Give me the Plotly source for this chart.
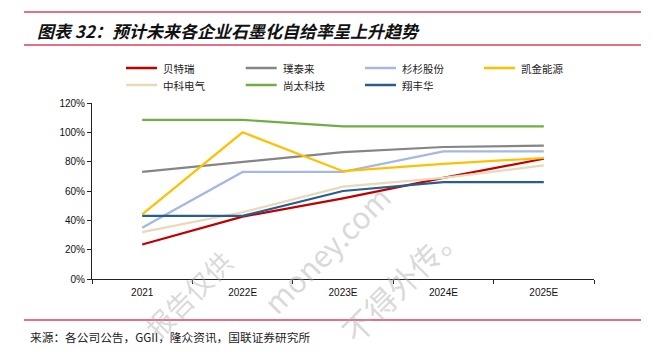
import plotly.graph_objects as go

categories = ["2021", "2022E", "2023E", "2024E", "2025E"]
companies = ["贝特瑞", "璞泰来", "杉杉股份", "凯金能源", "中科电气", "尚太科技", "翔丰华"]
btr = [23.5, 42.5, 55, 69, 82]
putailai = [73, 80, 86.5, 90, 91]
shanshan = [35, 73, 73, 87, 87]
kaijin = [44, 100, 73.5, 78.5, 82.5]
zhongke = [32, 45.5, 63, 69, 77.5]
shangtai = [108.5, 108.5, 104, 104, 104]
xiangfenghua = [43, 43, 60, 66, 66]
series = [btr, putailai, shanshan, kaijin, zhongke, shangtai, xiangfenghua]
colors = ["#C00000", "#858585", "#A4B8E2", "#FFC000", "#EAD8B8", "#70AD47", "#255E91"]
yticks = [0, 20, 40, 60, 80, 100, 120]
ytick_labels = ["0%", "20%", "40%", "60%", "80%", "100%", "120%"]

title_text = "图表 32：预计未来各企业石墨化自给率呈上升趋势"
source_text = "来源：各公司公告，GGII，隆众资讯，国联证券研究所"

W, H = 659, 353
L, R, T, B = 92, 65, 103, 74


def px(xp):
    return (xp - L) / (W - L - R)


def py(yp):
    return 1 - (yp - T) / (H - T - B)


fig = go.Figure()
for name, vals, c in zip(companies, series, colors):
    fig.add_trace(go.Scatter(x=categories, y=vals, name=name, mode="lines",
                             line=dict(color=c, width=2.2), showlegend=False))

cjk = "Noto Sans CJK SC"
fig.update_layout(
    width=W, height=H,
    margin=dict(l=L, r=R, t=T, b=B, pad=0),
    paper_bgcolor="white", plot_bgcolor="white",
    showlegend=False,
    xaxis=dict(type="category", range=[-0.5, 4.5], showline=True, linecolor="#222", linewidth=1,
               ticks="outside", tickson="boundaries", ticklen=4, tickcolor="#222",
               showgrid=False, tickfont=dict(family="Liberation Sans", size=10, color="#111"),
               ticklabelstandoff=4, fixedrange=True),
    yaxis=dict(range=[0, 120], tickvals=yticks, ticktext=ytick_labels, showline=True,
               linecolor="#222", linewidth=1, ticks="outside", ticklen=4, tickcolor="#222",
               showgrid=False, zeroline=False,
               tickfont=dict(family="Liberation Sans", size=10, color="#111"), fixedrange=True),
)

# legend (manual, 4 columns x 2 rows)
col_x = [126, 245.7, 365, 484]
row_y = [68, 85]
for i, (name, c) in enumerate(zip(companies, colors)):
    cx = col_x[i % 4]
    ry = row_y[i // 4]
    fig.add_shape(type="line", xref="paper", yref="paper",
                  x0=px(cx), x1=px(cx + 31), y0=py(ry), y1=py(ry),
                  line=dict(color=c, width=2.5))
    fig.add_annotation(text=name, xref="paper", yref="paper", x=px(cx + 35), y=py(ry),
                       xanchor="left", yanchor="middle", showarrow=False,
                       font=dict(family=cjk, size=10.5, color="#222"))

# header / footer rules
for yy in [12, 45, 320]:
    fig.add_shape(type="line", xref="paper", yref="paper",
                  x0=px(24), x1=px(641), y0=py(yy), y1=py(yy),
                  line=dict(color="#D9405E", width=1.3))

fig.add_annotation(text="<b><i>" + title_text + "</i></b>", xref="paper", yref="paper",
                   x=px(35), y=py(30), xanchor="left", yanchor="middle", showarrow=False,
                   font=dict(family=cjk, size=17, color="#111"))
fig.add_annotation(text=source_text, xref="paper", yref="paper",
                   x=px(28), y=py(336), xanchor="left", yanchor="middle", showarrow=False,
                   font=dict(family=cjk, size=11.7, color="#222"))

# watermark
wm = [("报告仅供", 188, 294, 27), ("money.com", 326, 249, 30), ("不得外传。", 401, 281, 31)]
for t, xx, yy, s in wm:
    fig.add_annotation(text=t, xref="paper", yref="paper", x=px(xx), y=py(yy),
                       xanchor="center", yanchor="middle", showarrow=False, textangle=-45,
                       font=dict(family=cjk, size=s, color="rgba(170,170,170,0.45)"))

fig.write_html("out.html")
